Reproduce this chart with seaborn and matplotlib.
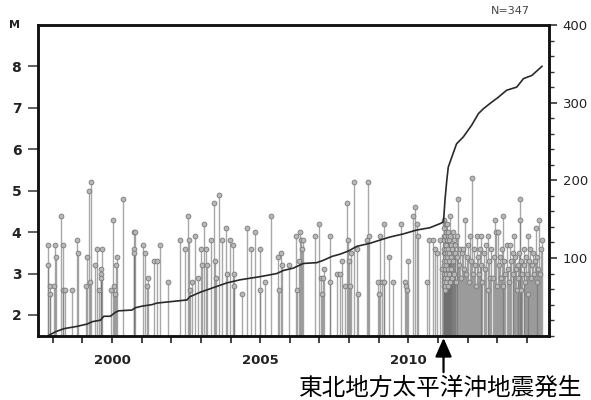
import matplotlib
matplotlib.use("Agg")
import matplotlib.pyplot as plt
import seaborn as sns
from matplotlib.ticker import MultipleLocator, FixedLocator, NullFormatter

# events before the 2011 Tohoku earthquake (decimal year, magnitude)
pre_year = [
    1997.84, 1997.84, 1997.92, 1997.92, 1998.03, 1998.06, 1998.11, 1998.27, 1998.33, 1998.35,
    1998.40, 1998.65, 1998.83, 1998.85, 1999.13, 1999.16, 1999.21, 1999.25, 1999.29, 1999.44,
    1999.49, 1999.55, 1999.61, 1999.64, 1999.64, 1999.66, 1999.98, 2000.03, 2000.06, 2000.11,
    2000.15, 2000.17, 2000.37, 2000.73, 2000.73, 2000.75, 2000.79, 2001.04, 2001.12, 2001.18,
    2001.21, 2001.40, 2001.52, 2001.63, 2001.88, 2002.30, 2002.45, 2002.56, 2002.60, 2002.64,
    2002.70, 2002.79, 2002.90, 2003.01, 2003.03, 2003.12, 2003.17, 2003.20, 2003.35, 2003.43,
    2003.46, 2003.52, 2003.60, 2003.71, 2003.85, 2003.88, 2003.99, 2004.07, 2004.10, 2004.13,
    2004.40, 2004.55, 2004.69, 2004.83, 2004.98, 2004.98, 2005.15, 2005.36, 2005.60, 2005.63,
    2005.71, 2005.75, 2005.99, 2006.21, 2006.24, 2006.30, 2006.33, 2006.37, 2006.40, 2006.46,
    2006.85, 2007.00, 2007.06, 2007.10, 2007.13, 2007.17, 2007.36, 2007.36, 2007.58, 2007.70,
    2007.75, 2007.87, 2007.92, 2007.98, 2008.01, 2008.03, 2008.07, 2008.18, 2008.26, 2008.31,
    2008.62, 2008.65, 2008.69, 2008.99, 2009.02, 2009.04, 2009.10, 2009.18, 2009.19, 2009.35,
    2009.47, 2009.75, 2009.89, 2009.93, 2009.97, 2010.00, 2010.15, 2010.22, 2010.31, 2010.34,
    2010.64, 2010.71, 2010.82, 2010.90, 2010.96, 2011.07, 2011.14,
]
pre_mag = [
    3.7, 3.2, 2.7, 2.5, 2.7, 3.7, 3.4, 4.4, 2.6, 3.7,
    2.6, 2.6, 3.8, 3.5, 2.7, 3.4, 5.0, 2.8, 5.2, 3.2,
    3.6, 2.6, 3.1, 3.0, 2.9, 3.6, 2.6, 4.3, 2.7, 2.5,
    3.2, 3.4, 4.8, 4.0, 3.6, 3.5, 4.0, 3.7, 3.5, 2.7,
    2.9, 3.3, 3.3, 3.7, 2.8, 3.8, 3.6, 4.4, 3.8, 2.6,
    2.8, 3.9, 2.9, 3.6, 3.2, 4.2, 3.6, 3.2, 3.8, 4.7,
    3.3, 2.9, 4.9, 3.8, 4.1, 3.0, 3.8, 3.7, 3.0, 2.7,
    2.5, 4.1, 3.6, 4.0, 3.6, 2.6, 2.8, 4.4, 3.4, 2.6,
    3.5, 3.2, 3.2, 3.9, 2.6, 3.3, 4.0, 3.8, 3.6, 3.8,
    3.9, 4.2, 2.9, 2.5, 2.9, 3.1, 3.9, 2.8, 3.0, 3.0,
    3.3, 2.7, 4.7, 3.8, 3.3, 2.7, 3.5, 5.2, 3.6, 2.5,
    3.8, 5.2, 3.9, 2.8, 2.5, 3.9, 2.8, 2.8, 4.2, 3.4,
    2.8, 4.2, 2.8, 2.7, 2.6, 3.3, 4.4, 4.6, 4.2, 3.9,
    2.8, 3.8, 3.8, 3.6, 3.5, 3.8, 3.1,
]

# events after the earthquake
post_year = [
    2011.19, 2011.19, 2011.19, 2011.20, 2011.20, 2011.20, 2011.21, 2011.21, 2011.21, 2011.22,
    2011.22, 2011.22, 2011.23, 2011.23, 2011.23, 2011.24, 2011.24, 2011.24, 2011.25, 2011.25,
    2011.25, 2011.26, 2011.26, 2011.27, 2011.27, 2011.28, 2011.28, 2011.29, 2011.29, 2011.30,
    2011.30, 2011.31, 2011.31, 2011.32, 2011.33, 2011.33, 2011.34, 2011.35, 2011.35, 2011.36,
    2011.37, 2011.38, 2011.39, 2011.40, 2011.41, 2011.41, 2011.43, 2011.44, 2011.45, 2011.47,
    2011.48, 2011.50, 2011.51, 2011.53, 2011.55, 2011.57, 2011.59, 2011.61, 2011.63, 2011.66,
    2011.69, 2011.72, 2011.75, 2011.78, 2011.81, 2011.84, 2011.88, 2011.92, 2011.95, 2011.98,
    2012.02, 2012.05, 2012.08, 2012.12, 2012.16, 2012.19, 2012.22, 2012.25, 2012.28, 2012.31,
    2012.35, 2012.38, 2012.42, 2012.45, 2012.46, 2012.50, 2012.55, 2012.60, 2012.64, 2012.68,
    2012.69, 2012.73, 2012.76, 2012.80, 2012.86, 2012.90, 2012.93, 2012.96, 2012.99, 2013.03,
    2013.07, 2013.10, 2013.14, 2013.18, 2013.21, 2013.21, 2013.23, 2013.27, 2013.32, 2013.36,
    2013.40, 2013.44, 2013.48, 2013.52, 2013.55, 2013.58, 2013.61, 2013.63, 2013.66, 2013.69,
    2013.72, 2013.75, 2013.77, 2013.77, 2013.79, 2013.82, 2013.85, 2013.89, 2013.92, 2013.95,
    2013.99, 2014.02, 2014.05, 2014.05, 2014.08, 2014.12, 2014.15, 2014.19, 2014.22, 2014.25,
    2014.28, 2014.30, 2014.33, 2014.36, 2014.39, 2014.41, 2014.44, 2014.47, 2014.51,
]
post_mag = [
    3.2, 3.8, 2.9, 3.5, 4.1, 2.7, 3.3, 3.9, 2.8, 3.6,
    4.3, 3.0, 3.4, 2.6, 3.7, 4.2, 3.1, 2.9, 3.5, 3.9,
    2.7, 3.2, 4.0, 3.6, 2.8, 3.3, 4.2, 3.0, 3.7, 3.4,
    4.2, 2.9, 3.8, 3.5, 3.1, 3.9, 2.7, 3.6, 4.0, 3.3,
    3.8, 3.0, 3.5, 3.9, 4.4, 2.8, 3.4, 3.7, 3.1, 3.6,
    2.9, 4.0, 3.3, 3.8, 3.0, 3.5, 3.7, 2.8, 3.4, 3.9,
    4.8, 3.2, 3.6, 2.9, 3.5, 3.6, 3.1, 4.3, 3.0, 3.4,
    3.7, 2.8, 3.9, 3.3, 5.3, 3.0, 3.6, 3.2, 2.7, 3.9,
    3.4, 3.0, 3.6, 3.9, 3.2, 2.8, 3.5, 3.1, 3.7, 3.9,
    2.6, 3.3, 2.9, 3.6, 2.9, 3.4, 4.3, 4.0, 2.7, 4.0,
    3.2, 3.4, 2.9, 3.6, 4.4, 2.7, 3.3, 3.0, 3.7, 3.1,
    2.8, 3.7, 3.3, 3.0, 3.5, 3.9, 3.4, 3.1, 2.6, 3.2,
    2.9, 3.5, 4.8, 4.3, 2.6, 3.3, 3.0, 3.6, 3.2, 2.8,
    3.4, 3.0, 3.9, 2.5, 3.3, 3.6, 2.9, 3.2, 3.5, 3.0,
    3.3, 4.1, 2.8, 3.4, 3.1, 4.3, 3.0, 3.6, 3.8,
]

# cumulative number of events (right axis)
cum_year = [
    1997.84, 1998.09, 1998.37, 1998.82, 1999.16, 1999.33, 1999.61, 1999.72, 1999.94, 2000.11,
    2000.22, 2000.67, 2000.79, 2001.01, 2001.35, 2001.52, 2002.53, 2002.62, 2002.98, 2003.43,
    2003.88, 2004.33, 2005.00, 2005.56, 2005.79, 2006.12, 2006.46, 2006.91, 2007.13, 2007.42,
    2007.70, 2007.98, 2008.26, 2008.71, 2009.04, 2009.38, 2009.83, 2010.28, 2010.73, 2011.12,
    2011.19, 2011.24, 2011.30, 2011.35, 2011.47, 2011.63, 2011.86, 2012.14, 2012.37, 2012.53,
    2012.76, 2013.04, 2013.32, 2013.66, 2013.89, 2014.17, 2014.52,
]
cum_count = [
    0, 5, 9, 12, 15, 18, 20, 25, 25, 30,
    32, 33, 36, 38, 40, 42, 46, 50, 56, 62,
    68, 72, 76, 80, 84, 87, 93, 94, 97, 102,
    105, 109, 115, 119, 123, 127, 131, 136, 139, 145,
    147, 175, 200, 217, 230, 247, 256, 271, 286, 292,
    299, 307, 316, 320, 331, 335, 347,
]

ev_year = pre_year + post_year
ev_mag = pre_mag + post_mag

sns.set_theme(style="ticks")
plt.rcParams["font.family"] = ["DejaVu Sans", "Noto Sans CJK JP"]

fig = plt.figure(figsize=(5.91, 4.0), dpi=100)
ax = fig.add_axes([0.0643, 0.1608, 0.8646, 0.7767])

ax.vlines(ev_year, 1.5, ev_mag, color="#6f6f6f", alpha=0.6, linewidth=1.0, zorder=2)
ax.scatter(ev_year, ev_mag, s=12, facecolor="#b8b8b8", edgecolor="#7a7a7a",
           linewidth=0.6, zorder=3)

ax.set_xlim(1997.5, 2014.75)
ax.set_ylim(1.5, 9.0)
ax.xaxis.set_major_locator(FixedLocator([2000, 2005, 2010]))
ax.xaxis.set_minor_locator(MultipleLocator(1))
ax.set_yticks([2, 3, 4, 5, 6, 7, 8])
ax.tick_params(axis="x", which="both", direction="out", length=5, width=1.2,
               color="#222222", pad=8, labelsize=9.5, labelcolor="#222222")
ax.tick_params(axis="y", which="both", direction="out", length=7, width=1.2,
               color="#444444", pad=5, labelsize=10, labelcolor="#222222")
for lab in ax.get_xticklabels() + ax.get_yticklabels():
    lab.set_fontweight("bold")

ax2 = ax.twinx()
sns.lineplot(x=cum_year, y=cum_count, ax=ax2, color="#2a2a2a", linewidth=1.2,
             sort=False, estimator=None)
ax2.set_ylim(0, 400)
ax2.set_yticks([100, 200, 300, 400])
ax2.yaxis.set_minor_locator(MultipleLocator(20))
ax2.yaxis.set_minor_formatter(NullFormatter())
ax2.tick_params(axis="y", which="major", direction="out", length=6, width=1.2,
                color="#333333", pad=4, labelsize=9.5, labelcolor="#222222")
ax2.tick_params(axis="y", which="minor", direction="out", length=3.5, width=1.0,
                color="#333333")

for a in (ax, ax2):
    for side in ("left", "right", "top", "bottom"):
        a.spines[side].set_visible(True)
        a.spines[side].set_linewidth(1.8)
        a.spines[side].set_color("#111111")

fig.text(15 / 591, 1 - 25 / 400, "M", fontsize=8, fontweight="bold",
         color="#222222", ha="center", va="center")
fig.text(510 / 591, 1 - 11 / 400, "N=347", fontsize=8, color="#444444",
         ha="center", va="center")

ax.annotate("", xy=(2011.19, 1.445), xytext=(2011.19, 0.62), xycoords="data",
            annotation_clip=False,
            arrowprops=dict(arrowstyle="-|>,head_length=0.95,head_width=0.42",
                            color="black", linewidth=1.6, shrinkA=0, shrinkB=0))
fig.text(441 / 591, 1 - 388 / 400, "東北地方太平洋沖地震発生", fontsize=17,
         family=["Noto Sans CJK JP", "DejaVu Sans"], color="black",
         ha="center", va="center")

fig.savefig("out.png", dpi=100)
plt.close(fig)
